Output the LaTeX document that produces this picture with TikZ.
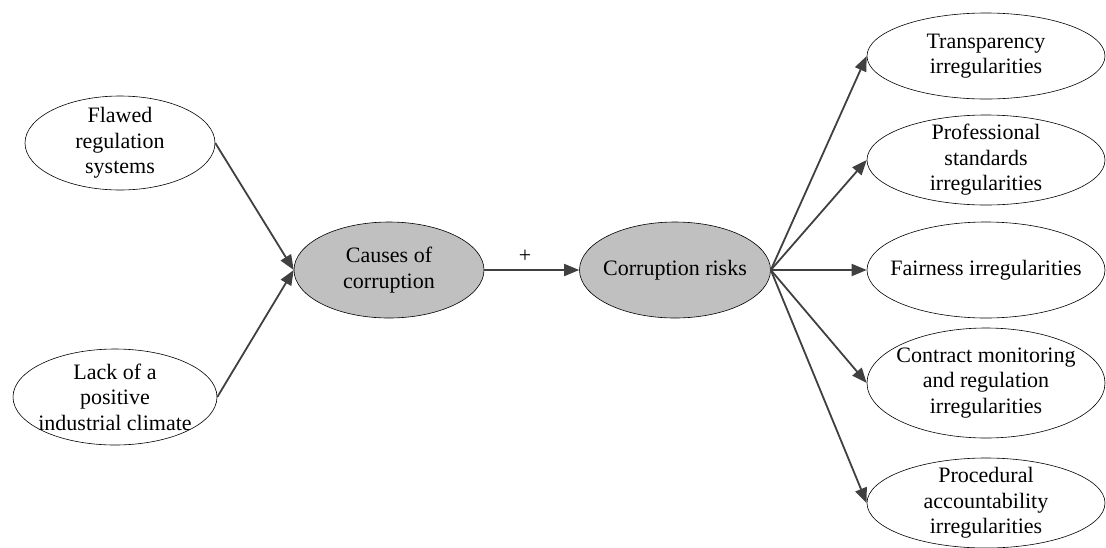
\documentclass[tikz,border=0pt]{standalone}
\usepackage{fontspec}
\setmainfont{Liberation Serif}
\usetikzlibrary{shapes.geometric,arrows.meta}
\definecolor{factorgray}{RGB}{192,192,192}
\definecolor{linkgray}{RGB}{64,64,64}

\begin{document}
\begin{tikzpicture}[x=1pt,y=-1pt,
        every node/.style={font=\fontsize{22}{25.5}\selectfont, align=center},
        factor/.style={ellipse, draw=black, line width=0.6pt, inner sep=0pt},
        core/.style={factor, fill=factorgray},
        link/.style={draw=linkgray, line width=1.8pt, -{Triangle[length=15pt,width=12pt]}}]
        \useasboundingbox (0,0) rectangle (1106,547);
        % left side
        \node [factor, minimum width=190, minimum height=94, label={center:Flawed\\regulation\\systems}] (flawed) at (120,143) {};
        \node [factor, minimum width=204, minimum height=96, label={center:Lack of a\\positive\\industrial climate}] (lack) at (115,397) {};
        % centre
        \node [core, minimum width=190, minimum height=96, label={center:Causes of\\corruption}] (causes) at (389,270) {};
        \node [core, minimum width=191, minimum height=96, label={center:Corruption risks}] (risks) at (675,270) {};
        % right side
        \node [factor, minimum width=238, minimum height=86, label={center:Transparency\\irregularities}] (transp) at (986,56) {};
        \node [factor, minimum width=238, minimum height=90, label={center:Professional\\standards\\irregularities}] (prof) at (986,160) {};
        \node [factor, minimum width=238, minimum height=96, label={center:Fairness irregularities}] (fair) at (986,270) {};
        \node [factor, minimum width=238, minimum height=110, label={center:Contract monitoring\\and regulation\\irregularities}] (contract) at (986,383) {};
        \node [factor, minimum width=238, minimum height=90, label={center:Procedural\\accountability\\irregularities}] (proc) at (986,503) {};
        % links
        \draw [link] (flawed.east) -- (causes.west);
        \draw [link] (lack.east) -- (causes.west);
        \draw [link] (causes.east) -- node [pos=0.43, above=3pt] (plus) {+} (risks.west);
        \foreach \target in {transp, prof, fair, contract, proc}
            \draw [link] (risks.east) -- (\target.west);
\end{tikzpicture}
\end{document}
